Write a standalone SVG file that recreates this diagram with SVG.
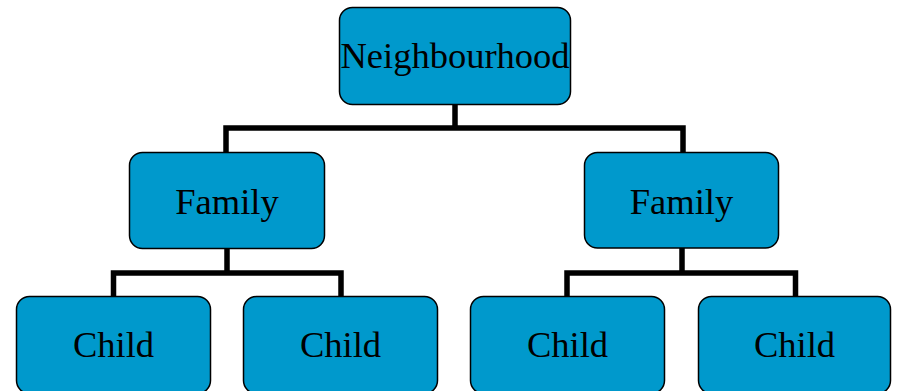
<svg xmlns="http://www.w3.org/2000/svg" width="898" height="391" viewBox="0 0 898 391">
<style>
.box{fill:#0099cc;stroke:#000;stroke-width:1.5}
.lbl{font-family:"Liberation Serif","Times New Roman",serif;font-size:36.5px;fill:#000;text-anchor:middle}
.conn{fill:none;stroke:#000;stroke-width:5.5;stroke-linejoin:miter;stroke-linecap:butt}
</style>
<rect width="898" height="391" fill="#fff"/>
<g id="connectors">
<path class="conn" d="M455,104 V128 M226,152 V128 H683 V152"/>
<path class="conn" d="M227,249 V273 M113.5,296 V273 H341 V296"/>
<path class="conn" d="M682,248 V273 M567,296 V273 H795.5 V296"/>
</g>
<g id="neighbourhood">
<rect class="box" x="339.5" y="7.5" width="231" height="97" rx="13"/>
<text class="lbl" x="455" y="68">Neighbourhood</text>
</g>
<g id="family-left">
<rect class="box" x="129.5" y="152.5" width="195" height="96" rx="13"/>
<text class="lbl" x="227" y="214">Family</text>
</g>
<g id="family-right">
<rect class="box" x="584.5" y="152.5" width="194" height="95.5" rx="13"/>
<text class="lbl" x="681.5" y="214">Family</text>
</g>
<g id="child-1">
<rect class="box" x="16.5" y="296.5" width="194" height="97" rx="13"/>
<text class="lbl" x="113.5" y="357">Child</text>
</g>
<g id="child-2">
<rect class="box" x="243.5" y="296.5" width="194" height="97" rx="13"/>
<text class="lbl" x="340.5" y="357">Child</text>
</g>
<g id="child-3">
<rect class="box" x="470.5" y="296.5" width="194" height="97" rx="13"/>
<text class="lbl" x="567.5" y="357">Child</text>
</g>
<g id="child-4">
<rect class="box" x="698.5" y="296.5" width="192" height="97" rx="13"/>
<text class="lbl" x="794.5" y="357">Child</text>
</g>
</svg>
